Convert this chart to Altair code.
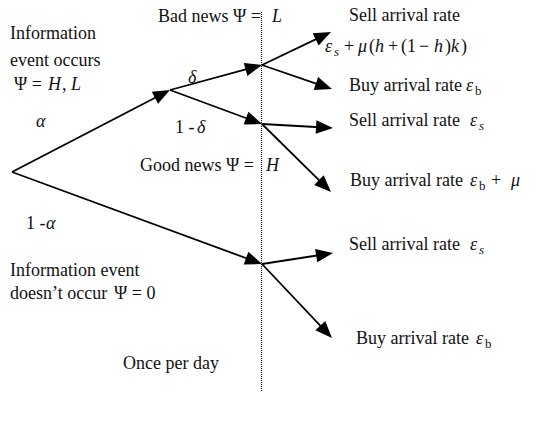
import math
import altair as alt
import pandas as pd

# ---- tree layout (diagram units = reference pixels) ----
edge_from_x = [12, 170, 170, 12, 262, 262, 262, 262, 262, 262]
edge_from_y = [172, 90, 90, 172, 65, 65, 124, 124, 264, 264]
edge_to_x = [170, 262, 262, 262, 331, 332, 333, 331, 333, 332]
edge_to_y = [90, 65, 124, 264, 32, 89, 128, 192, 253, 338]

guide_x = [261.5]
guide_y_top = [12]
guide_y_bottom = [392]

# ---- text runs ----
normal_text = ["Bad news Ψ =", "Information", "event occurs", "Ψ =", ",", "1 -",
               "Good news Ψ =", "1 -", "Information event", "doesn’t occur", "Ψ = 0",
               "Once per day", "Sell arrival rate", "+", "(", "+", "(", "1", "−", ")", ")",
               "Buy arrival rate", "b", "Sell arrival rate", "Buy arrival rate", "b", "+",
               "Sell arrival rate", "Buy arrival rate", "b"]
normal_x = [158, 10, 10, 14, 62, 175,
            140, 26, 10, 10, 114,
            123, 349, 344, 369, 388, 401, 407, 419, 445, 461,
            349, 475, 349, 350, 479, 491,
            349, 356, 485]
normal_y = [22, 39, 66, 90, 90, 133,
            171, 229, 276, 299, 299,
            369, 21, 52, 52, 52, 52, 52, 52, 52, 52,
            91, 95, 126, 186, 190, 186,
            250, 344, 348]
normal_size = [18, 18, 18, 18, 18, 18,
               18, 18, 18, 18, 18,
               18, 18, 18, 18, 18, 18, 18, 18, 18, 18,
               18, 13, 18, 18, 13, 18,
               18, 18, 13]

italic_text = ["L", "H", "L", "δ", "α", "δ", "H", "α",
               "ε", "s", "μ", "h", "h", "k",
               "ε", "ε", "s", "ε", "μ", "ε", "s", "ε"]
italic_x = [272, 48, 71, 188, 36, 197, 266, 46,
            325, 334, 358, 375, 434, 451,
            466, 470, 479, 470, 511, 470, 479, 476]
italic_y = [22, 90, 90, 83, 127, 133, 171, 229,
            52, 56, 52, 52, 52, 52,
            91, 126, 130, 186, 186, 250, 254, 344]
italic_size = [18, 18, 18, 18, 18, 18, 18, 18,
               18, 13, 18, 18, 18, 18,
               18, 18, 13, 18, 18, 18, 13, 18]

FONT = "Liberation Serif"
HEAD_LEN = 17

# ---- tables ----
rows = []
for x1, y1, x2, y2 in zip(edge_from_x, edge_from_y, edge_to_x, edge_to_y):
    dx, dy = x2 - x1, y2 - y1
    L = math.hypot(dx, dy)
    ux, uy = dx / L, dy / L
    ang = math.degrees(math.atan2(dx, -dy)) % 360
    rows.append(dict(x=x1, y=y1, x2=x2 - ux * (HEAD_LEN - 4), y2=y2 - uy * (HEAD_LEN - 4),
                     tx=x2, ty=y2, ang=ang))
edges = pd.DataFrame(rows)
heads = edges[["tx", "ty", "ang"]].rename(columns={"tx": "x", "ty": "y"})
guide = pd.DataFrame({"x": guide_x, "y": guide_y_top, "y2": guide_y_bottom})
ntext = pd.DataFrame({"t": normal_text, "x": normal_x, "y": normal_y, "s": normal_size})
itext = pd.DataFrame({"t": italic_text, "x": italic_x, "y": italic_y, "s": italic_size})

X = alt.X("x:Q", scale=alt.Scale(domain=[8, 531], nice=False, zero=False), axis=None)
Y = alt.Y("y:Q", scale=alt.Scale(domain=[8, 414], nice=False, zero=False, reverse=True), axis=None)

edge_layer = alt.Chart(edges).mark_rule(color="black", strokeWidth=1.8).encode(
    x=X, y=Y, x2="x2:Q", y2="y2:Q")

ARROW = "M0,0 L0.8,2 L-0.8,2 Z"
head_layer = alt.Chart(heads).mark_point(
    shape=ARROW, filled=True, color="black", opacity=1, strokeWidth=0,
    size=(HEAD_LEN / 2) ** 2 * 4).encode(
    x=X, y=Y, angle=alt.Angle("ang:Q", scale=None))

guide_layer = alt.Chart(guide).mark_rule(
    color="#111", strokeWidth=1.1, strokeDash=[1, 1]).encode(x=X, y=Y, y2="y2:Q")

normal_layer = alt.Chart(ntext).mark_text(
    align="left", baseline="alphabetic", font=FONT, color="#111").encode(
    x=X, y=Y, text="t:N", size=alt.Size("s:Q", scale=None))

italic_layer = alt.Chart(itext).mark_text(
    align="left", baseline="alphabetic", font=FONT, fontStyle="italic", color="#111").encode(
    x=X, y=Y, text="t:N", size=alt.Size("s:Q", scale=None))

chart = alt.layer(guide_layer, edge_layer, head_layer, normal_layer, italic_layer).properties(
    width=523, height=406, padding=0, autosize=alt.AutoSizeParams(type="none")
).configure_view(stroke=None)

chart.save("out.html", embed_options={"renderer": "svg", "actions": False})
